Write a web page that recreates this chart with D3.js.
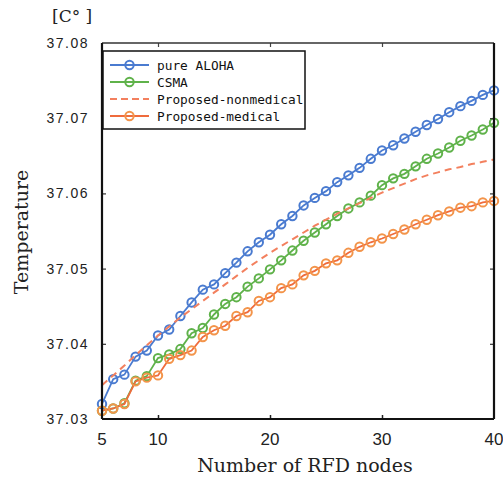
<!DOCTYPE html>
<html>
<head>
<meta charset="utf-8">
<script src="https://cdn.jsdelivr.net/npm/d3@7/dist/d3.min.js"></script>
<style>
  html, body { margin: 0; padding: 0; background: #fff; }
  svg { display: block; }
</style>
</head>
<body>
<svg id="chart" width="503" height="479"></svg>
<script>
// Number of RFD nodes
const nodes = d3.range(5, 41);

// Temperature [°C] per series
const pureAloha = [37.0320, 37.0353, 37.0359, 37.0383, 37.0391, 37.0411, 37.0419, 37.0437, 37.0455, 37.0472,
  37.0479, 37.0494, 37.0508, 37.0523, 37.0535, 37.0545, 37.0559, 37.0570, 37.0584, 37.0594,
  37.0603, 37.0615, 37.0624, 37.0634, 37.0646, 37.0657, 37.0664, 37.0673, 37.0682, 37.0691,
  37.0699, 37.0708, 37.0716, 37.0723, 37.0731, 37.0737];
const csma = [37.0311, 37.0314, 37.0321, 37.0351, 37.0357, 37.0381, 37.0386, 37.0393, 37.0414, 37.0421,
  37.0439, 37.0453, 37.0462, 37.0476, 37.0487, 37.0499, 37.0511, 37.0524, 37.0537, 37.0548,
  37.0559, 37.0570, 37.0580, 37.0588, 37.0597, 37.0611, 37.0620, 37.0626, 37.0636, 37.0646,
  37.0653, 37.0661, 37.0670, 37.0677, 37.0685, 37.0694];
const proposedNonmedical = [37.0345, 37.0358, 37.0371, 37.0385, 37.0398, 37.0411, 37.0423, 37.0435, 37.0446, 37.0457,
  37.0468, 37.0479, 37.0490, 37.0501, 37.0511, 37.0521, 37.0530, 37.0539, 37.0548, 37.0557,
  37.0565, 37.0573, 37.0580, 37.0587, 37.0594, 37.0601, 37.0607, 37.0613, 37.0619, 37.0624,
  37.0628, 37.0632, 37.0635, 37.0639, 37.0642, 37.0645];
const proposedMedical = [37.0311, 37.0314, 37.0320, 37.0350, 37.0355, 37.0358, 37.0380, 37.0385, 37.0391, 37.0409,
  37.0418, 37.0424, 37.0437, 37.0442, 37.0457, 37.0462, 37.0474, 37.0479, 37.0491, 37.0497,
  37.0507, 37.0511, 37.0521, 37.0529, 37.0535, 37.0540, 37.0546, 37.0552, 37.0559, 37.0565,
  37.0571, 37.0576, 37.0581, 37.0583, 37.0588, 37.0590];

const xTicks = [5, 10, 20, 30, 40];
const yTicks = [37.03, 37.04, 37.05, 37.06, 37.07, 37.08];

const series = [
  { name: "pure ALOHA", values: pureAloha, line: "#4a7bd0", marker: "#4a7bd0", dashed: false, markers: true },
  { name: "CSMA", values: csma, line: "#5fb24a", marker: "#5fb24a", dashed: false, markers: true },
  { name: "Proposed-nonmedical", values: proposedNonmedical, line: "#f3805e", marker: "#f3805e", dashed: true, markers: false },
  { name: "Proposed-medical", values: proposedMedical, line: "#ef6b3c", marker: "#f3944a", dashed: false, markers: true }
];

const svg = d3.select("#chart");
const plot = { left: 102, right: 494, top: 43, bottom: 419 };

const x = d3.scaleLinear().domain([5, 40]).range([plot.left, plot.right]);
const y = d3.scaleLinear().domain([37.03, 37.08]).range([plot.bottom, plot.top]);

const serif = "'DejaVu Serif', 'Liberation Serif', serif";
const gothic = "'Liberation Sans', 'DejaVu Sans', sans-serif";
const mono = "'DejaVu Sans Mono', 'Liberation Mono', monospace";

// Series lines and markers (drawn first so the frame stays on top)
const lineGen = d3.line().x((d, i) => x(nodes[i])).y(d => y(d));
const gSeries = svg.append("g");
series.forEach(s => {
  gSeries.append("path")
    .datum(s.values)
    .attr("d", lineGen)
    .attr("fill", "none")
    .attr("stroke", s.line)
    .attr("stroke-width", s.dashed ? 2 : 1.8)
    .attr("stroke-dasharray", s.dashed ? "7,5" : null);
  if (s.markers) {
    gSeries.selectAll(null)
      .data(s.values)
      .enter().append("circle")
      .attr("cx", (d, i) => x(nodes[i]))
      .attr("cy", d => y(d))
      .attr("r", 4.2)
      .attr("fill", "none")
      .attr("stroke", s.marker)
      .attr("stroke-width", 2);
  }
});

// Axes: ticks point inward on all four sides
const axisFmt = d => "";
svg.append("g")
  .attr("transform", `translate(0,${plot.bottom})`)
  .call(d3.axisBottom(x).tickValues([10, 20, 30]).tickSize(-4).tickFormat(axisFmt))
  .call(g => g.select(".domain").remove())
  .call(g => g.selectAll("line").attr("stroke", "#222").attr("stroke-width", 1.5));
svg.append("g")
  .attr("transform", `translate(0,${plot.top})`)
  .call(d3.axisTop(x).tickValues([10, 20, 30]).tickSize(-4).tickFormat(axisFmt))
  .call(g => g.select(".domain").remove())
  .call(g => g.selectAll("line").attr("stroke", "#444").attr("stroke-width", 1.2));
svg.append("g")
  .attr("transform", `translate(${plot.left},0)`)
  .call(d3.axisLeft(y).tickValues(yTicks.slice(1, -1)).tickSize(-4).tickFormat(axisFmt))
  .call(g => g.select(".domain").remove())
  .call(g => g.selectAll("line").attr("stroke", "#333").attr("stroke-width", 1.2));
svg.append("g")
  .attr("transform", `translate(${plot.right},0)`)
  .call(d3.axisRight(y).tickValues(yTicks.slice(1, -1)).tickSize(-4).tickFormat(axisFmt))
  .call(g => g.select(".domain").remove())
  .call(g => g.selectAll("line").attr("stroke", "#333").attr("stroke-width", 1.2));

// Frame
svg.append("line").attr("x1", plot.left).attr("x2", plot.right).attr("y1", plot.top).attr("y2", plot.top)
  .attr("stroke", "#333").attr("stroke-width", 1.3);
svg.append("line").attr("x1", plot.left).attr("x2", plot.right).attr("y1", plot.bottom).attr("y2", plot.bottom)
  .attr("stroke", "#111").attr("stroke-width", 2.2);
svg.append("line").attr("x1", plot.left).attr("x2", plot.left).attr("y1", plot.top).attr("y2", plot.bottom)
  .attr("stroke", "#111").attr("stroke-width", 2.2);
svg.append("line").attr("x1", plot.right).attr("x2", plot.right).attr("y1", plot.top).attr("y2", plot.bottom)
  .attr("stroke", "#111").attr("stroke-width", 2.2);

// Tick labels
svg.append("g").selectAll("text")
  .data(yTicks).enter().append("text")
  .attr("x", 89)
  .attr("y", d => y(d) + 5)
  .attr("text-anchor", "end")
  .attr("font-family", gothic)
  .attr("font-size", 14)
  .attr("letter-spacing", 1.5)
  .attr("fill", "#222")
  .text(d => d.toFixed(2));
svg.append("g").selectAll("text")
  .data(xTicks).enter().append("text")
  .attr("x", d => x(d))
  .attr("y", 445)
  .attr("text-anchor", "middle")
  .attr("font-family", gothic)
  .attr("font-size", 17)
  .attr("fill", "#222")
  .text(d => d);

// Axis titles and unit
svg.append("text")
  .attr("x", 305).attr("y", 472)
  .attr("text-anchor", "middle")
  .attr("font-family", serif)
  .attr("font-size", 19)
  .attr("fill", "#222")
  .text("Number of RFD nodes");
svg.append("text")
  .attr("transform", "translate(28,232) rotate(-90)")
  .attr("text-anchor", "middle")
  .attr("font-family", serif)
  .attr("font-size", 19)
  .attr("fill", "#222")
  .text("Temperature");
svg.append("text")
  .attr("x", 52).attr("y", 22)
  .attr("font-family", serif)
  .attr("font-size", 17)
  .attr("fill", "#222")
  .text("[C° ]");

// Legend
const legend = svg.append("g");
legend.append("rect")
  .attr("x", 103).attr("y", 51)
  .attr("width", 202).attr("height", 78)
  .attr("fill", "#fff")
  .attr("stroke", "#111")
  .attr("stroke-width", 1.5);
const rowY = [65, 82, 99, 116];
series.forEach((s, i) => {
  const yy = rowY[i];
  legend.append("line")
    .attr("x1", 110).attr("x2", 149)
    .attr("y1", yy).attr("y2", yy)
    .attr("stroke", s.line)
    .attr("stroke-width", s.dashed ? 2.2 : 1.8)
    .attr("stroke-dasharray", s.dashed ? "7,4" : null);
  if (s.markers) {
    legend.append("circle")
      .attr("cx", 129.5).attr("cy", yy).attr("r", 4.2)
      .attr("fill", "none")
      .attr("stroke", s.marker)
      .attr("stroke-width", 2);
  }
  legend.append("text")
    .attr("x", 157).attr("y", yy + 5)
    .attr("font-family", mono)
    .attr("font-size", 12.8)
    .attr("fill", "#111")
    .text(s.name);
});
</script>
</body>
</html>
